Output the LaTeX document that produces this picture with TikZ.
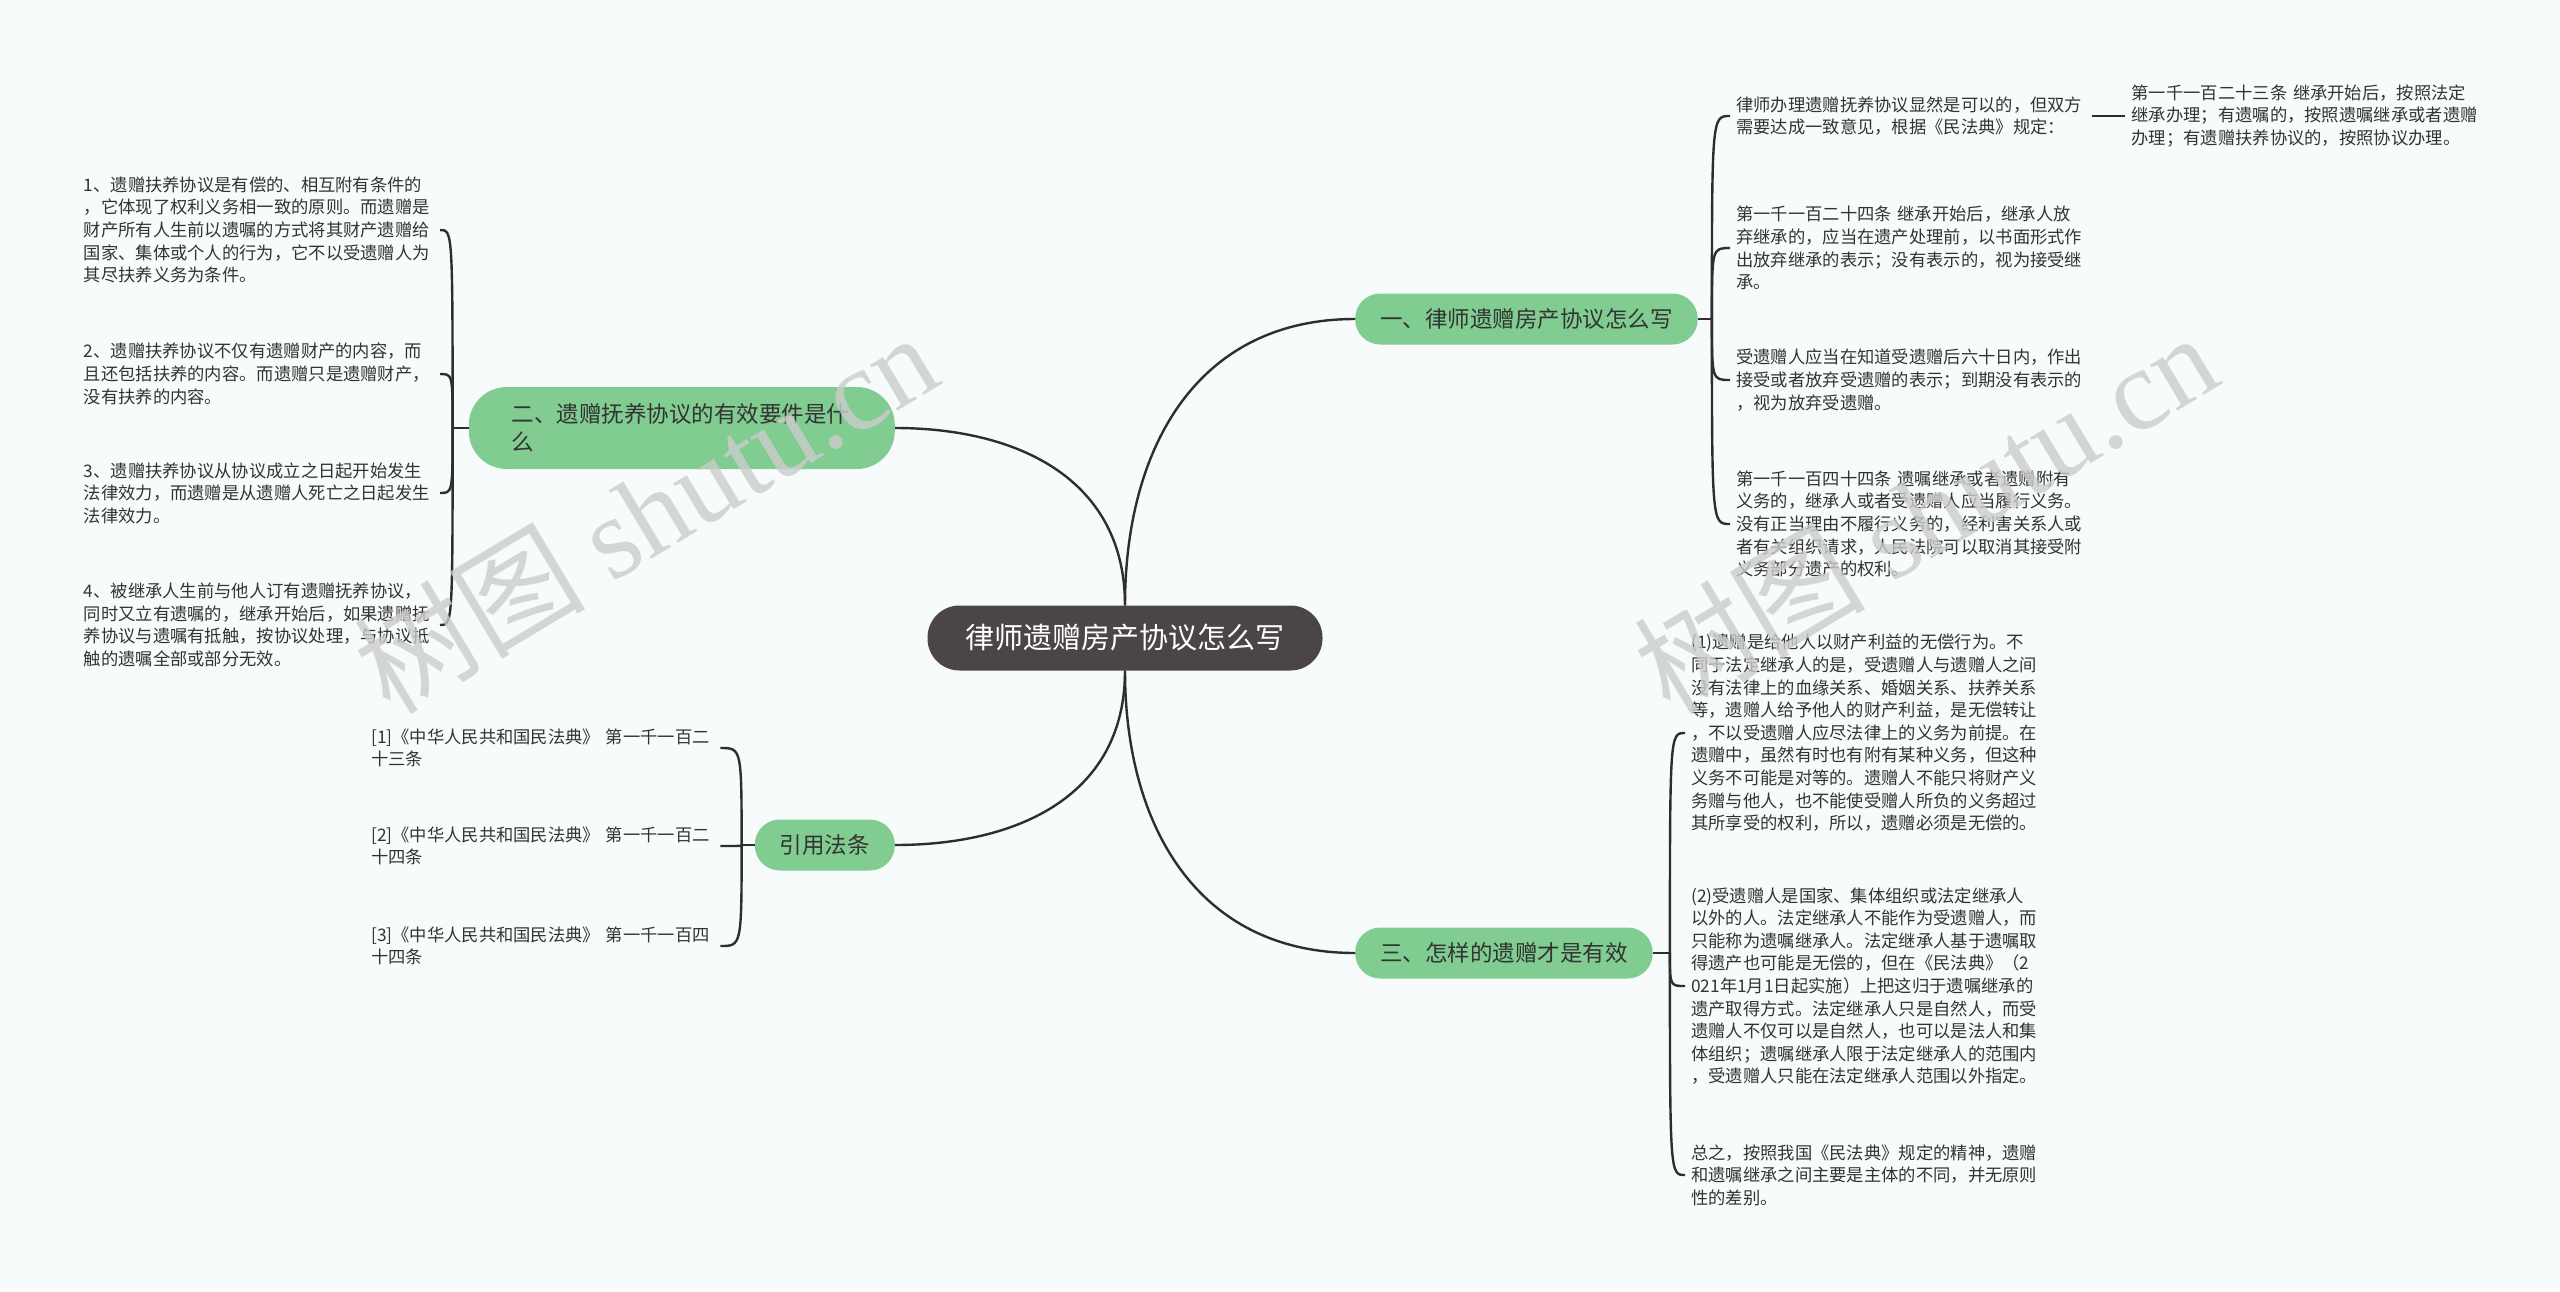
\documentclass[tikz,border=0pt]{standalone}
\usepackage{fontspec}
\setmainfont{Noto Sans CJK SC}
\newfontfamily\stampfont{Liberation Serif}
\usepackage{tikz}
\usetikzlibrary{positioning}
\definecolor{paper}{HTML}{F8FBFC}
\definecolor{rootgray}{HTML}{4B4645}
\definecolor{topicgreen}{HTML}{80CC91}
\definecolor{inkgray}{HTML}{333333}
\definecolor{linegray}{HTML}{2E2E2E}

\begin{document}
\begin{tikzpicture}[x=1pt, y=-1pt, node distance=15pt,
    root/.style={fill=rootgray, text=white, rounded corners=32pt, minimum height=65pt, inner xsep=38pt, font=\fontsize{29}{34}\selectfont},
    topic/.style={fill=topicgreen, text=inkgray, rounded corners=25pt, minimum height=51pt, inner xsep=25pt, font=\fontsize{22.5}{28}\selectfont},
    leaf/.style={text=inkgray, align=left, text width=350pt, inner xsep=6pt, inner ysep=2pt, font=\fontsize{17.3}{22.6}\selectfont},
    link/.style={draw=linegray, line width=2.4pt},
    stamp/.style={text=black!20, text opacity=0.8, rotate=31, font=\fontsize{116}{120}\selectfont}]
    \useasboundingbox (0,0) rectangle (2560,1291);
    \fill[paper] (0,0) rectangle (2560,1291);

    \node[root] (root) at (1125,638) {律师遗赠房产协议怎么写};
    \node[topic, anchor=west] (b1) at (1355,319) {一、律师遗赠房产协议怎么写};
    \node[topic, anchor=east, text width=340pt, align=left, inner xsep=43pt, minimum height=82pt, rounded corners=38pt] (b2) at (895,428) {二、遗赠抚养协议的有效要件是什\\么};
    \node[topic, anchor=west] (b3) at (1355,953) {三、怎样的遗赠才是有效};
    \node[topic, anchor=east] (b4) at (895,845) {引用法条};

    \draw[link] (root.north) to[out=90, in=180, looseness=1.1] (b1.west);
    \draw[link] (root.north) to[out=90, in=0, looseness=1.1] (b2.east);
    \draw[link] (root.south) to[out=-90, in=180, looseness=1.1] (b3.west);
    \draw[link] (root.south) to[out=-90, in=0, looseness=1.1] (b4.east);

    \node[leaf, anchor=west] (r1) at (1730,116) {律师办理遗赠抚养协议显然是可以的，但双方\\需要达成一致意见，根据《民法典》规定：};
    \node[leaf, right=33pt of r1] (r1b) {第一千一百二十三条 继承开始后，按照法定\\继承办理；有遗嘱的，按照遗嘱继承或者遗赠\\办理；有遗赠扶养协议的，按照协议办理。};
    \node[leaf, anchor=west] (r2) at (1730,248) {第一千一百二十四条 继承开始后，继承人放\\弃继承的，应当在遗产处理前，以书面形式作\\出放弃继承的表示；没有表示的，视为接受继\\承。};
    \node[leaf, anchor=west] (r3) at (1730,380) {受遗赠人应当在知道受遗赠后六十日内，作出\\接受或者放弃受遗赠的表示；到期没有表示的\\，视为放弃受遗赠。};
    \node[leaf, anchor=west] (r4) at (1730,524) {第一千一百四十四条 遗嘱继承或者遗赠附有\\义务的，继承人或者受遗赠人应当履行义务。\\没有正当理由不履行义务的，经利害关系人或\\者有关组织请求，人民法院可以取消其接受附\\义务部分遗产的权利。};

    \node[leaf, anchor=east] (l1) at (440,230) {1、遗赠扶养协议是有偿的、相互附有条件的\\，它体现了权利义务相一致的原则。而遗赠是\\财产所有人生前以遗嘱的方式将其财产遗赠给\\国家、集体或个人的行为，它不以受遗赠人为\\其尽扶养义务为条件。};
    \node[leaf, anchor=east] (l2) at (440,374) {2、遗赠扶养协议不仅有遗赠财产的内容，而\\且还包括扶养的内容。而遗赠只是遗赠财产，\\没有扶养的内容。};
    \node[leaf, anchor=east] (l3) at (440,493) {3、遗赠扶养协议从协议成立之日起开始发生\\法律效力，而遗赠是从遗赠人死亡之日起发生\\法律效力。};
    \node[leaf, anchor=east] (l4) at (440,625) {4、被继承人生前与他人订有遗赠抚养协议，\\同时又立有遗嘱的，继承开始后，如果遗赠抚\\养协议与遗嘱有抵触，按协议处理，与协议抵\\触的遗嘱全部或部分无效。};

    \node[leaf, anchor=west, text width=343pt] (c1) at (365,748) {[1]《中华人民共和国民法典》 第一千一百二\\十三条};
    \node[leaf, anchor=west, text width=343pt] (c2) at (365,846) {[2]《中华人民共和国民法典》 第一千一百二\\十四条};
    \node[leaf, anchor=west, text width=343pt] (c3) at (365,946) {[3]《中华人民共和国民法典》 第一千一百四\\十四条};

    \node[leaf, anchor=west] (s1) at (1685,733) {(1)遗赠是给他人以财产利益的无偿行为。不\\同于法定继承人的是，受遗赠人与遗赠人之间\\没有法律上的血缘关系、婚姻关系、扶养关系\\等，遗赠人给予他人的财产利益，是无偿转让\\，不以受遗赠人应尽法律上的义务为前提。在\\遗赠中，虽然有时也有附有某种义务，但这种\\义务不可能是对等的。遗赠人不能只将财产义\\务赠与他人，也不能使受赠人所负的义务超过\\其所享受的权利，所以，遗赠必须是无偿的。};
    \node[leaf, anchor=west] (s2) at (1685,986) {(2)受遗赠人是国家、集体组织或法定继承人\\以外的人。法定继承人不能作为受遗赠人，而\\只能称为遗嘱继承人。法定继承人基于遗嘱取\\得遗产也可能是无偿的，但在《民法典》（2\\021年1月1日起实施）上把这归于遗嘱继承的\\遗产取得方式。法定继承人只是自然人，而受\\遗赠人不仅可以是自然人，也可以是法人和集\\体组织；遗嘱继承人限于法定继承人的范围内\\，受遗赠人只能在法定继承人范围以外指定。};
    \node[leaf, anchor=west] (s3) at (1685,1175) {总之，按照我国《民法典》规定的精神，遗赠\\和遗嘱继承之间主要是主体的不同，并无原则\\性的差别。};

    \coordinate[right=14pt of b1] (h1);
    \coordinate[left=16pt of b2] (h2);
    \coordinate[right=17pt of b3] (h3);
    \coordinate[left=13pt of b4] (h4);

    \draw[link] (b1) -- (h1);
    \foreach \n in {r1, r2, r3, r4}
        \draw[link] (h1) .. controls (h1 |- \n.west) .. (\n.west);
    \draw[link] (r1) -- (r1b);
    \draw[link] (b2) -- (h2);
    \foreach \n in {l1, l2, l3, l4}
        \draw[link] (h2) .. controls (h2 |- \n.east) .. (\n.east);
    \draw[link] (b3) -- (h3);
    \foreach \n in {s1, s2, s3}
        \draw[link] (h3) .. controls (h3 |- \n.west) .. (\n.west);
    \draw[link] (b4) -- (h4);
    \foreach \n in {c1, c2, c3}
        \draw[link] (h4) .. controls (h4 |- \n.east) .. (\n.east);

    \node[stamp] (wm1) at (645,512) {树图 {\stampfont shutu.cn}};
    \node[stamp] (wm2) at (1925,512) {树图 {\stampfont shutu.cn}};
\end{tikzpicture}
\end{document}
